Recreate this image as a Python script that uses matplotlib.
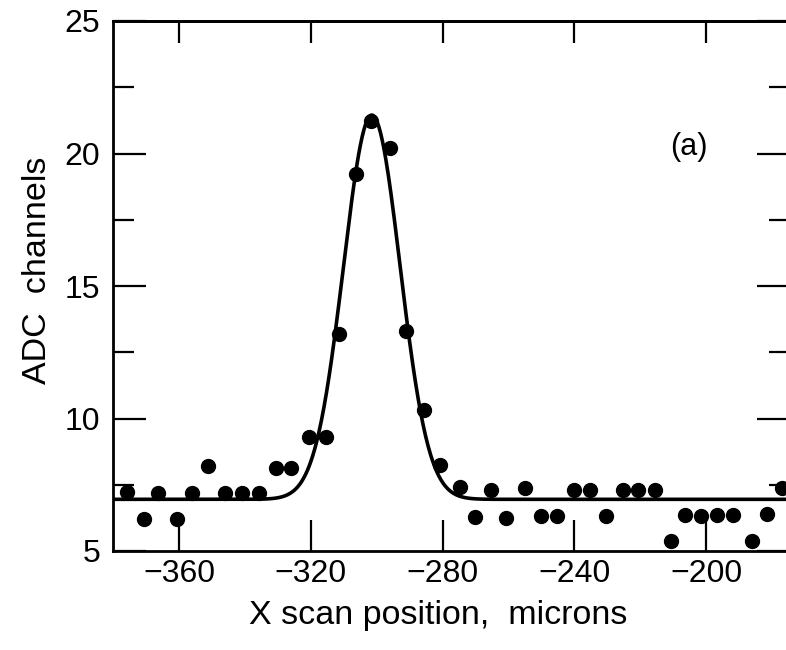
import numpy as np
import matplotlib
matplotlib.use("Agg")
import matplotlib.pyplot as plt

plt.rcParams['font.family'] = ['Liberation Sans', 'DejaVu Sans']

# Data points
x_pos = [-375.9, -370.8, -366.5, -360.7, -356.0, -351.3, -346.2, -340.8, -335.7,
         -330.6, -325.9, -320.5, -315.4, -311.6, -306.3, -301.6, -295.9, -291.0,
         -285.5, -280.7, -274.8, -270.2, -265.3, -260.6, -255.1, -250.0, -245.2,
         -240.1, -235.2, -230.3, -225.3, -220.6, -215.6, -210.5, -206.5, -201.6,
         -196.8, -191.8, -185.9, -181.6, -176.8]
adc = [7.23, 6.20, 7.20, 6.20, 7.19, 8.22, 7.20, 7.20, 7.20,
       8.15, 8.15, 9.29, 9.29, 13.20, 19.24, 21.23, 20.20, 13.30,
       10.31, 8.23, 7.42, 6.28, 7.32, 6.26, 7.38, 6.31, 6.31,
       7.32, 7.32, 6.31, 7.32, 7.32, 7.32, 5.37, 6.35, 6.32,
       6.35, 6.37, 5.38, 6.41, 7.38]

# Gaussian fit parameters
fit_baseline = 6.95
fit_amplitude = 14.5
fit_center = -301.5
fit_sigma = 8.6

x_ticks = [-360, -320, -280, -240, -200]
y_ticks = [5, 10, 15, 20, 25]
y_minor = [7.5, 12.5, 17.5, 22.5]

fig = plt.figure(figsize=(7.86, 6.5), dpi=100)
ax = fig.add_axes([113/786, 99/650, 677/786, 530/650])

xs = np.linspace(-380.1, -174.5, 800)
ys = fit_baseline + fit_amplitude * np.exp(-0.5 * ((xs - fit_center) / fit_sigma) ** 2)
ax.plot(xs, ys, color='black', lw=2.6, zorder=2)
ax.plot(x_pos, adc, 'o', color='black', ms=10, zorder=3, clip_on=True)

ax.set_xlim(-380.1, -174.5)
ax.set_ylim(5, 25)
ax.set_xticks(x_ticks)
ax.set_yticks(y_ticks)
ax.set_yticks(y_minor, minor=True)
ax.set_xticklabels([f"\u2212{abs(v)}" for v in x_ticks])

for s in ax.spines.values():
    s.set_linewidth(2.0)

ax.tick_params(axis='x', which='major', direction='in', length=22, width=1.6,
               top=False, bottom=True, labelsize=23, pad=6)
ax.tick_params(axis='y', which='major', direction='in', length=24, width=1.6,
               left=True, right=True, labelsize=23, pad=9)
ax.tick_params(axis='y', which='minor', direction='in', length=15, width=1.6,
               left=True, right=True)

sec = ax.secondary_xaxis('top')
sec.set_xticks(x_ticks)
sec.tick_params(direction='in', length=16, width=1.6, labeltop=False)
sec.spines['top'].set_linewidth(2.0)

ax.set_xlabel("X scan position,  microns", fontsize=24.5)
ax.xaxis.set_label_coords(0.481, -0.093)
ax.set_ylabel("ADC  channels", fontsize=24.5)
ax.yaxis.set_label_coords(-0.088, 0.53)

ax.text(-205.3, 20.23, "(a)", fontsize=22, ha='center', va='center')

fig.savefig("out.png", dpi=100)
